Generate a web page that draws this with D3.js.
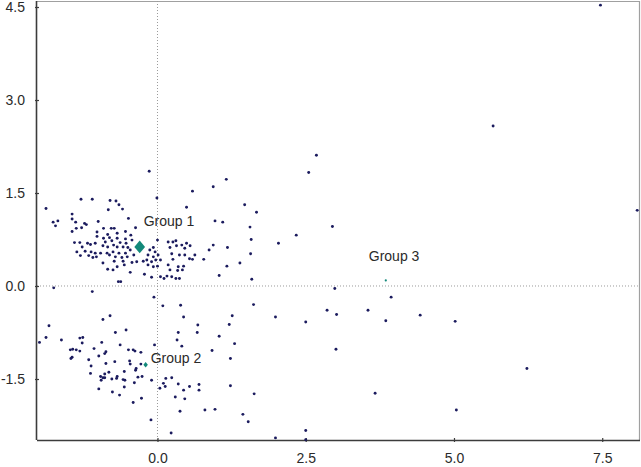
<!DOCTYPE html>
<html>
<head>
<meta charset="utf-8">
<script src="https://cdn.jsdelivr.net/npm/d3@7"></script>
<style>
  html, body { margin: 0; padding: 0; background: #fff; }
  svg { display: block; }
  text { font-family: "Liberation Sans", Arial, sans-serif; }
</style>
</head>
<body>
<svg id="chart" width="641" height="467"></svg>
<script>
// ---- data ----
const xTicks = [0, 2.5, 5.0, 7.5];
const yTicks = [-1.5, 0, 1.5, 3.0, 4.5];
const xDomain = [-2.032, 8.137];
const yDomain = [-2.484, 4.597];

const points = [
  [-1.88,1.25],[-1.29,1.40],[-1.10,1.40],[-0.80,1.38],[-0.70,1.37],[-0.65,1.31],[-0.83,1.23],[-0.59,1.24],
  [-1.44,1.16],[-1.76,1.03],[-1.68,1.05],[-1.72,0.97],[-1.44,1.08],[-1.38,1.03],[-1.23,1.01],[-1.20,0.99],
  [-1.00,1.04],[-0.49,1.09],[-1.37,0.93],[-1.28,0.94],[-1.44,0.88],[-0.91,0.93],[-0.78,0.93],[-0.73,0.93],
  [-0.37,0.94],[-1.02,0.87],[-1.02,0.80],[-0.84,0.83],[-0.68,0.85],[-0.54,0.88],[-0.45,0.82],[-0.91,0.77],
  [-0.81,0.78],[-0.68,0.77],[-0.54,0.76],[-1.40,0.70],[-1.31,0.70],[-1.18,0.69],[-1.05,0.69],[-0.88,0.71],
  [-0.77,0.73],[-0.63,0.70],[-0.53,0.69],[-0.43,0.74],[-1.27,0.63],[-1.13,0.67],[-0.92,0.65],[-0.84,0.63],
  [-0.74,0.66],[-0.68,0.63],[-0.58,0.63],[-0.50,0.62],[-1.36,0.55],[-1.22,0.56],[-1.12,0.55],[-1.05,0.53],
  [-0.96,0.53],[-0.85,0.53],[-0.75,0.55],[-0.65,0.53],[-0.54,0.53],[-0.46,0.58],[-1.30,0.49],[-1.16,0.49],
  [-1.09,0.46],[-1.03,0.47],[-0.81,0.50],[-0.71,0.47],[-0.60,0.46],[-0.51,0.47],[-0.40,0.50],[-0.92,0.37],
  [-0.73,0.40],[-0.58,0.40],[-0.43,0.38],[-0.35,0.39],[-0.24,0.40],[-0.84,0.27],[-0.68,0.31],[-0.56,0.34],
  [-0.75,0.26],[-0.46,0.22],[-0.66,0.07],[-0.62,0.07],[-0.22,0.19],[-1.75,-0.03],
  [-0.14,1.85],[-0.01,1.42],[0.59,1.53],[0.94,1.60],[1.16,1.72],[0.49,1.27],[1.47,1.31],[1.67,1.19],
  [0.97,1.05],[1.10,1.03],[1.56,0.95],[1.58,0.75],[1.57,0.52],[0.00,0.74],[-0.07,0.62],[-0.13,0.58],
  [-0.04,0.55],[-0.16,0.50],[-0.07,0.47],[0.01,0.50],[-0.18,0.42],[-0.10,0.39],[-0.03,0.42],[0.05,0.42],
  [-0.16,0.34],[-0.07,0.31],[0.00,0.32],[-0.10,0.14],[0.05,0.15],[0.11,0.12],[0.16,0.16],
  [0.18,0.71],[0.26,0.71],[0.31,0.73],[0.21,0.62],[0.32,0.65],[0.41,0.66],[0.49,0.69],[0.55,0.65],
  [0.46,0.61],[0.24,0.52],[0.37,0.50],[0.46,0.50],[0.63,0.50],[0.26,0.43],[0.54,0.44],[0.59,0.43],
  [0.78,0.43],[0.18,0.34],[0.35,0.31],[0.44,0.32],[0.21,0.26],[0.34,0.25],[0.42,0.26],[0.24,0.15],
  [0.31,0.12],[0.37,0.12],[0.87,0.58],[0.94,0.66],[1.18,0.62],[1.39,0.37],[1.17,0.32],[1.04,0.17],[1.59,0.11],
  [2.68,2.11],[2.55,1.83],[2.95,0.96],[2.34,0.82],[2.04,0.69],[2.99,-0.04],[3.94,-0.18],
  [7.47,4.53],[5.66,2.58],[8.09,1.22],
  [1.99,-0.50],[2.50,-0.58],[2.86,-0.39],[3.02,-0.46],[3.55,-0.39],[3.85,-0.56],[3.01,-1.02],[3.67,-1.73],
  [2.50,-2.33],[1.99,-2.45],[2.50,-2.48],[1.62,-0.30],[1.26,-0.48],[1.21,-0.62],[4.43,-0.47],[1.04,-0.81],
  [1.30,-0.93],[0.92,-1.04],[1.23,-1.17],[1.23,-1.61],[1.63,-1.74],[0.80,-2.00],[0.97,-1.99],[1.44,-2.07],
  [1.53,-2.19],[5.02,-0.57],[6.23,-1.33],[5.04,-2.00],
  [-0.06,-0.18],[0.09,-0.32],[0.39,-0.31],[0.44,-0.50],[0.68,-0.63],[0.67,-0.75],[0.35,-0.75],[0.33,-0.87],
  [0.41,-0.97],[-0.05,-0.95],[-0.28,-1.07],[-0.28,-1.26],[-0.26,-1.46],[-0.10,-1.52],[0.14,-1.49],[0.24,-1.48],
  [0.10,-1.57],[0.13,-1.62],[0.04,-1.65],[0.35,-1.58],[0.44,-1.68],[0.54,-1.62],[0.70,-1.59],[0.70,-1.68],
  [-0.27,-1.81],[0.30,-1.79],[0.46,-1.82],[0.38,-2.02],[-0.11,-2.16],[0.23,-2.37],
  [-1.10,-0.09],[-0.92,-0.54],[-0.80,-0.48],[-1.83,-0.64],[-1.88,-0.83],[-1.99,-0.91],[-1.62,-0.87],[-1.31,-0.84],
  [-1.26,-0.83],[-1.27,-0.92],[-0.71,-0.75],[-0.53,-0.71],[-0.94,-0.91],[-0.63,-0.95],[-1.47,-1.03],[-1.43,-1.02],
  [-1.37,-1.03],[-1.31,-1.05],[-1.07,-1.01],[-0.87,-1.06],[-0.89,-1.09],[-0.49,-1.03],[-0.41,-1.03],[-0.38,-1.05],
  [-1.44,-1.15],[-1.46,-1.17],[-0.99,-1.13],[-1.16,-1.19],[-1.12,-1.29],[-0.87,-1.25],[-0.72,-1.22],[-0.47,-1.21],
  [-0.46,-1.26],[-0.36,-1.33],[-0.37,-1.36],[-1.13,-1.41],[-0.82,-1.39],[-0.89,-1.42],[-0.56,-1.38],[-0.96,-1.46],
  [-0.92,-1.48],[-0.89,-1.48],[-0.95,-1.52],[-0.77,-1.50],[-0.68,-1.46],[-0.69,-1.49],[-0.58,-1.51],[-0.55,-1.52],
  [-0.39,-1.56],[-0.33,-1.47],[-0.99,-1.66],[-0.56,-1.63],[-0.76,-1.71],[-0.64,-1.76],[-0.41,-1.88]
];

const groupNames = ["Group 1", "Group 2", "Group 3"];
const groupX = [-0.30, -0.20, 3.85];
const groupY = [0.63, -1.27, 0.09];

// ---- drawing ----
(function () {
const pLeft = 37, pRight = 640, pTop = 1, pBottom = 440;
const svg = d3.select("#chart");

const x = d3.scaleLinear().domain(xDomain).range([pLeft, pRight]);
const y = d3.scaleLinear().domain(yDomain).range([pBottom, pTop]);

// frame: top and right light lines
svg.append("line").attr("x1", pLeft).attr("x2", pRight).attr("y1", pTop + 0.5).attr("y2", pTop + 0.5)
  .attr("stroke", "#a0a0a0").attr("stroke-width", 1.2);
svg.append("line").attr("x1", pRight - 0.5).attr("x2", pRight - 0.5).attr("y1", pTop).attr("y2", pBottom)
  .attr("stroke", "#a0a0a0").attr("stroke-width", 1.2);

// zero reference lines
svg.append("line").attr("x1", x(0)).attr("x2", x(0)).attr("y1", pTop).attr("y2", pBottom)
  .attr("stroke", "#9a9a9a").attr("stroke-width", 1).attr("stroke-dasharray", "1,2");
svg.append("line").attr("x1", pLeft).attr("x2", pRight).attr("y1", y(0)).attr("y2", y(0))
  .attr("stroke", "#9a9a9a").attr("stroke-width", 1).attr("stroke-dasharray", "1,2");

// axes
const fmt = d => d.toFixed(1);
const gx = svg.append("g").attr("transform", `translate(0,${pBottom})`)
  .call(d3.axisBottom(x).tickValues(xTicks).tickFormat(fmt).tickSizeOuter(0));
const gy = svg.append("g").attr("transform", `translate(${pLeft},0)`)
  .call(d3.axisLeft(y).tickValues(yTicks).tickFormat(fmt).tickSizeOuter(0));

[gx, gy].forEach(g => {
  g.select(".domain").attr("stroke", "#3c3c3c").attr("stroke-width", 1.6);
  g.selectAll(".tick line").attr("stroke", "#3c3c3c").attr("stroke-width", 1.2);
  g.selectAll(".tick text").attr("fill", "#2a2a2a").style("font-size", "14px")
    .style("font-family", "'Liberation Sans', Arial, sans-serif");
});
gx.selectAll(".tick line").attr("y1", -2).attr("y2", 2);
gx.selectAll(".tick text").attr("y", 23).attr("dy", 0);
gy.selectAll(".tick line").attr("x1", 2).attr("x2", -2);
gy.selectAll(".tick text").attr("x", -12).attr("dy", "0.35em");
gx.select(".domain").attr("d", `M${pLeft},0.5H${pRight}`);
gy.select(".domain").attr("d", `M-0.5,${pTop}V${pBottom}`);

// points
svg.append("g").selectAll("circle").data(points).join("circle")
  .attr("cx", d => x(d[0])).attr("cy", d => y(d[1]))
  .attr("r", 1.45).attr("fill", "#1b1b5e");

// group centroids
const teal = "#13897a";
const gSizes = [80, 14, 0];
groupNames.forEach((name, i) => {
  const cx = x(groupX[i]), cy = y(groupY[i]);
  if (gSizes[i] > 0) {
    svg.append("path")
      .attr("d", d3.symbol().type(d3.symbolSquare).size(gSizes[i])())
      .attr("transform", `translate(${cx},${cy}) scale(0.85,1) rotate(45)`)
      .attr("fill", teal);
  } else {
    svg.append("circle").attr("cx", cx).attr("cy", cy).attr("r", 1.1).attr("fill", teal);
  }
});

// group labels
const labelDx = [4, 5, -17];
const labelDy = [-21, -2, -19];
groupNames.forEach((name, i) => {
  svg.append("text")
    .attr("x", x(groupX[i]) + labelDx[i])
    .attr("y", y(groupY[i]) + labelDy[i])
    .attr("fill", "#2a2a2a")
    .style("font-size", "14px")
    .text(name);
});
})();
</script>
</body>
</html>
